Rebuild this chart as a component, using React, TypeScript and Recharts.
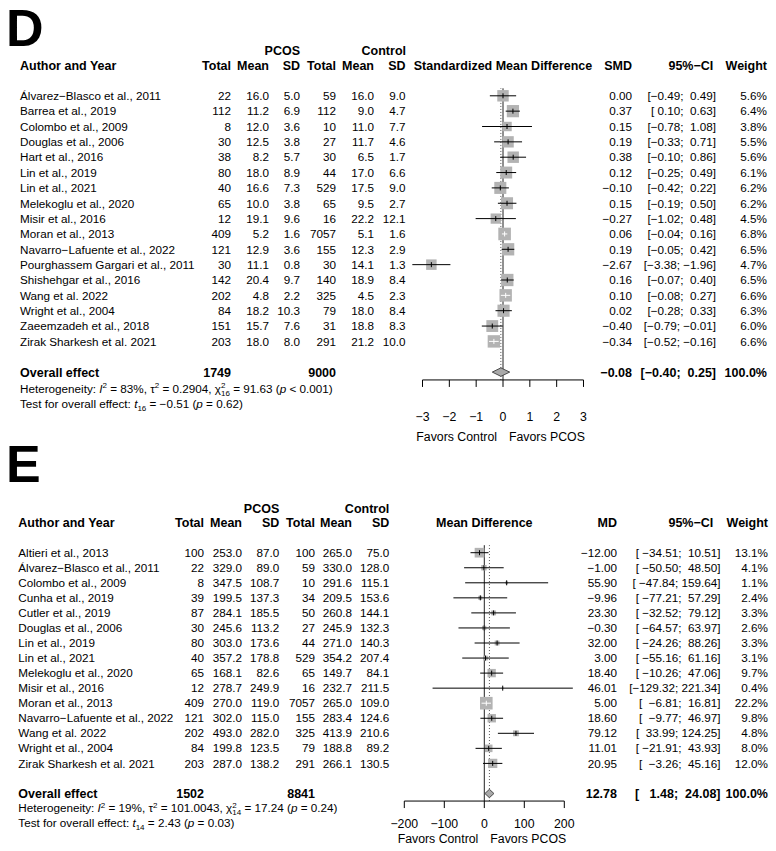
import React from 'react';
import { ComposedChart, Bar, XAxis, YAxis, ReferenceLine } from 'recharts';

const FONT = '"Liberation Sans", Arial, Helvetica, sans-serif';
const FS = 11.7;
const FS_BOLD = 12.5;
const BOX_MAX = 12.6;

// ---- D: standardized mean difference ----
const dAuthors = [
  '\u00C1lvarez\u2212Blasco et al., 2011',
  'Barrea et al., 2019',
  'Colombo et al., 2009',
  'Douglas et al., 2006',
  'Hart et al., 2016',
  'Lin et al., 2019',
  'Lin et al., 2021',
  'Melekoglu et al., 2020',
  'Misir et al., 2016',
  'Moran et al., 2013',
  'Navarro\u2212Lafuente et al., 2022',
  'Pourghassem Gargari et al., 2011',
  'Shishehgar et al., 2016',
  'Wang et al. 2022',
  'Wright et al., 2004',
  'Zaeemzadeh et al., 2018',
  'Zirak Sharkesh et al. 2021',
];
const dPcosTotal = [22, 112, 8, 30, 38, 80, 40, 65, 12, 409, 121, 30, 142, 202, 84, 151, 203];
const dPcosMean = [16.0, 11.2, 12.0, 12.5, 8.2, 18.0, 16.6, 10.0, 19.1, 5.2, 12.9, 11.1, 20.4, 4.8, 18.2, 15.7, 18.0];
const dPcosSd = [5.0, 6.9, 3.6, 3.8, 5.7, 8.9, 7.3, 3.8, 9.6, 1.6, 3.6, 0.8, 9.7, 2.2, 10.3, 7.6, 8.0];
const dCtrlTotal = [59, 112, 10, 27, 30, 44, 529, 65, 16, 7057, 155, 30, 140, 325, 79, 31, 291];
const dCtrlMean = [16.0, 9.0, 11.0, 11.7, 6.5, 17.0, 17.5, 9.5, 22.2, 5.1, 12.3, 14.1, 18.9, 4.5, 18.0, 18.8, 21.2];
const dCtrlSd = [9.0, 4.7, 7.7, 4.6, 1.7, 6.6, 9.0, 2.7, 12.1, 1.6, 2.9, 1.3, 8.4, 2.3, 8.4, 8.3, 10.0];
const dSmd = [0.0, 0.37, 0.15, 0.19, 0.38, 0.12, -0.1, 0.15, -0.27, 0.06, 0.19, -2.67, 0.16, 0.1, 0.02, -0.4, -0.34];
const dLower = [-0.49, 0.1, -0.78, -0.33, -0.1, -0.25, -0.42, -0.19, -1.02, -0.04, -0.05, -3.38, -0.07, -0.08, -0.28, -0.79, -0.52];
const dUpper = [0.49, 0.63, 1.08, 0.71, 0.86, 0.49, 0.22, 0.5, 0.48, 0.16, 0.42, -1.96, 0.4, 0.27, 0.33, -0.01, -0.16];
const dWeight = [5.6, 6.4, 3.8, 5.5, 5.6, 6.1, 6.2, 6.2, 4.5, 6.8, 6.5, 4.7, 6.5, 6.6, 6.3, 6.0, 6.6];
const dOverall = { pcos: 1749, ctrl: 9000, est: -0.08, lo: -0.4, hi: 0.25 };
const dTicks = [-3, -2, -1, 0, 1, 2, 3];

// ---- E: mean difference ----
const eAuthors = [
  'Altieri et al., 2013',
  '\u00C1lvarez\u2212Blasco et al., 2011',
  'Colombo et al., 2009',
  'Cunha et al., 2019',
  'Cutler et al., 2019',
  'Douglas et al., 2006',
  'Lin et al., 2019',
  'Lin et al., 2021',
  'Melekoglu et al., 2020',
  'Misir et al., 2016',
  'Moran et al., 2013',
  'Navarro\u2212Lafuente et al., 2022',
  'Wang et al. 2022',
  'Wright et al., 2004',
  'Zirak Sharkesh et al. 2021',
];
const ePcosTotal = [100, 22, 8, 39, 87, 30, 80, 40, 65, 12, 409, 121, 202, 84, 203];
const ePcosMean = [253.0, 329.0, 347.5, 199.5, 284.1, 245.6, 303.0, 357.2, 168.1, 278.7, 270.0, 302.0, 493.0, 199.8, 287.0];
const ePcosSd = [87.0, 89.0, 108.7, 137.3, 185.5, 113.2, 173.6, 178.8, 82.6, 249.9, 119.0, 115.0, 282.0, 123.5, 138.2];
const eCtrlTotal = [100, 59, 10, 34, 50, 27, 44, 529, 65, 16, 7057, 155, 325, 79, 291];
const eCtrlMean = [265.0, 330.0, 291.6, 209.5, 260.8, 245.9, 271.0, 354.2, 149.7, 232.7, 265.0, 283.4, 413.9, 188.8, 266.1];
const eCtrlSd = [75.0, 128.0, 115.1, 153.6, 144.1, 132.3, 140.3, 207.4, 84.1, 211.5, 109.0, 124.6, 210.6, 89.2, 130.5];
const eMd = [-12.0, -1.0, 55.9, -9.96, 23.3, -0.3, 32.0, 3.0, 18.4, 46.01, 5.0, 18.6, 79.12, 11.01, 20.95];
const eLower = [-34.51, -50.5, -47.84, -77.21, -32.52, -64.57, -24.26, -55.16, -10.26, -129.32, -6.81, -9.77, 33.99, -21.91, -3.26];
const eUpper = [10.51, 48.5, 159.64, 57.29, 79.12, 63.97, 88.26, 61.16, 47.06, 221.34, 16.81, 46.97, 124.25, 43.93, 45.16];
const eWeight = [13.1, 4.1, 1.1, 2.4, 3.3, 2.6, 3.3, 3.1, 9.7, 0.4, 22.2, 9.8, 4.8, 8.0, 12.0];
const eOverall = { pcos: 1502, ctrl: 8841, est: 12.78, lo: 1.48, hi: 24.08 };
const eTicks = [-200, -100, 0, 100, 200];

const minus = (s: string) => s.replace(/-/g, '\u2212');

function buildRows(
  authors: string[], pT: number[], pM: number[], pS: number[],
  cT: number[], cM: number[], cS: number[],
  est: number[], lo: number[], hi: number[], w: number[], ov: any,
) {
  const wl = Math.max(...[...lo, ov.lo].map((v) => v.toFixed(2).length));
  const wu = Math.max(...[...hi, ov.hi].map((v) => v.toFixed(2).length));
  const ci = (a: number, b: number) =>
    '[' + minus(a.toFixed(2).padStart(wl)) + '; ' + minus(b.toFixed(2).padStart(wu)) + ']';
  const maxW = Math.max(...w);
  const rows: any[] = authors.map((a, i) => ({
    key: 's' + i,
    kind: 'study',
    name: a,
    cols: [String(pT[i]), pM[i].toFixed(1), pS[i].toFixed(1), String(cT[i]), cM[i].toFixed(1), cS[i].toFixed(1)],
    est: est[i],
    lo: lo[i],
    hi: hi[i],
    w: w[i],
    maxW,
    range: [lo[i], hi[i]],
    estText: minus(est[i].toFixed(2)),
    ciText: ci(lo[i], hi[i]),
    wText: w[i].toFixed(1) + '%',
  }));
  rows.push({ key: 'gap', kind: 'gap', range: null });
  rows.push({
    key: 'overall',
    kind: 'overall',
    name: 'Overall effect',
    cols: [String(ov.pcos), '', '', String(ov.ctrl), '', ''],
    est: ov.est,
    lo: ov.lo,
    hi: ov.hi,
    range: [ov.lo, ov.hi],
    estText: minus(ov.est.toFixed(2)),
    ciText: ci(ov.lo, ov.hi),
    wText: '100.0%',
  });
  return rows;
}

const dRows = buildRows(dAuthors, dPcosTotal, dPcosMean, dPcosSd, dCtrlTotal, dCtrlMean, dCtrlSd, dSmd, dLower, dUpper, dWeight, dOverall);
const eRows = buildRows(eAuthors, ePcosTotal, ePcosMean, ePcosSd, eCtrlTotal, eCtrlMean, eCtrlSd, eMd, eLower, eUpper, eWeight, eOverall);

const dCols = { nameX: 20, colX: [231, 269, 300, 336, 374, 405.5], estX: 632, ciX: 716, wX: 767 };
const eCols = { nameX: 18.3, colX: [204, 242, 279.3, 315, 352, 389.3], estX: 617, ciX: 720.5, wX: 768 };

function Txt({ x, y, anchor = 'start', bold = false, size, dy, children }: any) {
  return (
    <text
      x={x}
      y={y}
      dy={dy}
      textAnchor={anchor}
      fontFamily={FONT}
      fontSize={size ?? (bold ? FS_BOLD : FS)}
      fontWeight={bold ? 'bold' : 'normal'}
      fill="#000"
      style={{ whiteSpace: 'pre' }}
    >
      {children}
    </text>
  );
}

// table text for one row, placed at the row's band centre from the category axis
function RowTick(props: any) {
  const { y, payload, rows, cols } = props;
  const row = rows.find((r: any) => r.key === payload.value);
  if (!row || row.kind === 'gap') return <g />;
  const b = row.kind === 'overall';
  return (
    <g>
      <Txt x={cols.nameX} y={y} dy="0.35em" bold={b}>{row.name}</Txt>
      {row.cols.map((c: string, i: number) => (
        <Txt key={i} x={cols.colX[i]} y={y} dy="0.35em" anchor="end" bold={b}>{c}</Txt>
      ))}
      <Txt x={cols.estX} y={y} dy="0.35em" anchor="end" bold={b}>{row.estText}</Txt>
      <Txt x={cols.ciX} y={y} dy="0.35em" anchor="end" bold={b}>{row.ciText}</Txt>
      <Txt x={cols.wX} y={y} dy="0.35em" anchor="end" bold={b}>{row.wText}</Txt>
    </g>
  );
}

// square + CI line for studies, diamond for the pooled effect
function ForestMark(props: any) {
  const { x, y, width, height, payload } = props;
  if (!payload || payload.kind === 'gap' || x == null) return <g />;
  const cy = y + height / 2;
  const x0 = x;
  const x1 = x + width;
  const xe = x0 + ((payload.est - payload.lo) / (payload.hi - payload.lo)) * width;
  if (payload.kind === 'overall') {
    const h = 4.2;
    return (
      <polygon
        points={`${x0},${cy} ${xe},${cy - h} ${x1},${cy} ${xe},${cy + h}`}
        fill="#a9a9a9"
        stroke="#4a4a4a"
        strokeWidth={1}
      />
    );
  }
  const s = BOX_MAX * Math.sqrt(payload.w / payload.maxW);
  const c = width < s ? '#ffffff' : '#000000';
  return (
    <g>
      <rect x={xe - s / 2} y={cy - s / 2} width={s} height={s} fill="#b3b3b3" />
      <line x1={x0} x2={x1} y1={cy} y2={cy} stroke={c} strokeWidth={1} />
      <line x1={xe} x2={xe} y1={cy - 2.5} y2={cy + 2.5} stroke={c} strokeWidth={1} />
    </g>
  );
}

function AxisDecor(props: any) {
  const { domain, from, to, favorsDy } = props;
  const vb = props.viewBox ?? props;
  const px = (v: number) => vb.x + ((v - domain[0]) / (domain[1] - domain[0])) * vb.width;
  return (
    <g>
      <line x1={px(from)} x2={px(to)} y1={vb.y} y2={vb.y} stroke="#000" strokeWidth={1} />
      <Txt x={px(0) - 6} y={vb.y + favorsDy} anchor="end" size={12.3}>Favors Control</Txt>
      <Txt x={px(0) + 6} y={vb.y + favorsDy} size={12.3}>Favors PCOS</Txt>
    </g>
  );
}

function Forest(p: any) {
  const bottom = p.height - p.plotTop - p.plotH - p.xAxisH;
  return (
    <div style={{ position: 'absolute', left: 0, top: p.top }}>
      <ComposedChart
        width={776}
        height={p.height}
        data={p.rows}
        layout="vertical"
        margin={{ top: p.plotTop, right: p.rightM, left: 0, bottom }}
      >
        <XAxis
          type="number"
          domain={p.domain}
          ticks={p.ticks}
          interval={0}
          axisLine={false}
          tickLine={{ stroke: '#000' }}
          tickSize={7}
          tickMargin={p.tickMargin}
          height={p.xAxisH}
          tick={{ fontSize: 12.3, fill: '#000', fontFamily: FONT }}
          tickFormatter={(v: number) => minus(String(v))}
          label={{
            content: (lp: any) => (
              <AxisDecor {...lp} domain={p.domain} from={p.ticks[0]} to={p.ticks[p.ticks.length - 1]} favorsDy={p.favorsDy} />
            ),
          }}
        />
        <YAxis
          type="category"
          dataKey="key"
          width={p.yAxisW}
          axisLine={false}
          tickLine={false}
          interval={0}
          tick={(tp: any) => <RowTick {...tp} rows={p.rows} cols={p.cols} />}
        />
        <ReferenceLine x={0} stroke="#222" strokeWidth={1} zIndex={100} />
        <ReferenceLine x={p.overall} stroke="#555" strokeWidth={1} strokeDasharray="1 2" zIndex={100} />
        <Bar
          dataKey="range"
          barSize={1}
          isAnimationActive={false}
          zIndex={1000}
          shape={(bp: any) => <ForestMark {...bp} />}
        />
      </ComposedChart>
    </div>
  );
}

function HetText({ x, y, i2, tau2, q, df, p }: any) {
  return (
    <text x={x} y={y} fontFamily={FONT} fontSize={FS} fill="#000" style={{ whiteSpace: 'pre' }}>
      {'Heterogeneity: '}
      <tspan fontStyle="italic">I</tspan>
      <tspan dy={-4.5} fontSize={8}>2</tspan>
      <tspan dy={4.5}>{' = ' + i2 + ', \u03C4'}</tspan>
      <tspan dy={-4.5} fontSize={8}>2</tspan>
      <tspan dy={4.5}>{' = ' + tau2 + ', \u03C7'}</tspan>
      <tspan dy={-4.5} fontSize={8}>2</tspan>
      <tspan dx={-4.4} dy={7.5} fontSize={8}>{df}</tspan>
      <tspan dy={-3}>{' = ' + q + ' ('}</tspan>
      <tspan fontStyle="italic">p</tspan>
      <tspan>{' ' + p + ')'}</tspan>
    </text>
  );
}

function TestText({ x, y, df, t, p }: any) {
  return (
    <text x={x} y={y} fontFamily={FONT} fontSize={FS} fill="#000" style={{ whiteSpace: 'pre' }}>
      {'Test for overall effect: '}
      <tspan fontStyle="italic">t</tspan>
      <tspan dy={3} fontSize={8}>{df}</tspan>
      <tspan dy={-3}>{' = ' + minus(t) + ' ('}</tspan>
      <tspan fontStyle="italic">p</tspan>
      <tspan>{' = ' + p + ')'}</tspan>
    </text>
  );
}

function Headers() {
  const dHead = ['Total', 'Mean', 'SD', 'Total', 'Mean', 'SD'];
  return (
    <svg width={776} height={851} style={{ position: 'absolute', left: 0, top: 0, pointerEvents: 'none' }}>
      <Txt x={6} y={46} bold size={52}>D</Txt>
      <Txt x={300} y={55} anchor="end" bold>PCOS</Txt>
      <Txt x={406} y={55} anchor="end" bold>Control</Txt>
      <Txt x={20} y={69.5} bold>Author and Year</Txt>
      {dHead.map((h, i) => (
        <Txt key={i} x={dCols.colX[i]} y={69.5} anchor="end" bold>{h}</Txt>
      ))}
      <Txt x={503} y={69.5} anchor="middle" bold>Standardized Mean Difference</Txt>
      <Txt x={632} y={69.5} anchor="end" bold>SMD</Txt>
      <Txt x={713.3} y={69.5} anchor="end" bold>{'95%\u2212CI'}</Txt>
      <Txt x={767} y={69.5} anchor="end" bold>Weight</Txt>
      <HetText x={20} y={392.5} i2="83%" tau2="0.2904" q="91.63" df="16" p="< 0.001" />
      <TestText x={20} y={407.5} df="16" t="-0.51" p="0.62" />

      <Txt x={6} y={482} bold size={52}>E</Txt>
      <Txt x={279.3} y={512.5} anchor="end" bold>PCOS</Txt>
      <Txt x={389.3} y={512.5} anchor="end" bold>Control</Txt>
      <Txt x={18.3} y={527} bold>Author and Year</Txt>
      {dHead.map((h, i) => (
        <Txt key={i} x={eCols.colX[i]} y={527} anchor="end" bold>{h}</Txt>
      ))}
      <Txt x={484.3} y={527} anchor="middle" bold>Mean Difference</Txt>
      <Txt x={617} y={527} anchor="end" bold>MD</Txt>
      <Txt x={713.3} y={527} anchor="end" bold>{'95%\u2212CI'}</Txt>
      <Txt x={768} y={527} anchor="end" bold>Weight</Txt>
      <HetText x={18.3} y={812.3} i2="19%" tau2="101.0043" q="17.24" df="14" p="= 0.24" />
      <TestText x={18.3} y={827.3} df="14" t="2.43" p="0.03" />
    </svg>
  );
}

export default function App() {
  return (
    <div style={{ position: 'relative', width: 776, height: 851, background: '#fff', overflow: 'hidden' }}>
      <style>{'body{margin:0;background:#fff}'}</style>
      <Forest
        rows={dRows}
        cols={dCols}
        top={0}
        height={455}
        plotTop={88.3}
        plotH={19 * 15.35}
        xAxisH={62}
        yAxisW={409.1}
        rightM={179.1}
        domain={[-3.5, 3.5]}
        ticks={dTicks}
        tickMargin={25}
        favorsDy={61}
        overall={dOverall.est}
      />
      <Forest
        rows={eRows}
        cols={eCols}
        top={455}
        height={396}
        plotTop={90.2}
        plotH={17 * 15.05}
        xAxisH={45}
        yAxisW={388.3}
        rightM={195.7}
        domain={[-240, 240]}
        ticks={eTicks}
        tickMargin={11}
        favorsDy={42.3}
        overall={eOverall.est}
      />
      <Headers />
    </div>
  );
}
